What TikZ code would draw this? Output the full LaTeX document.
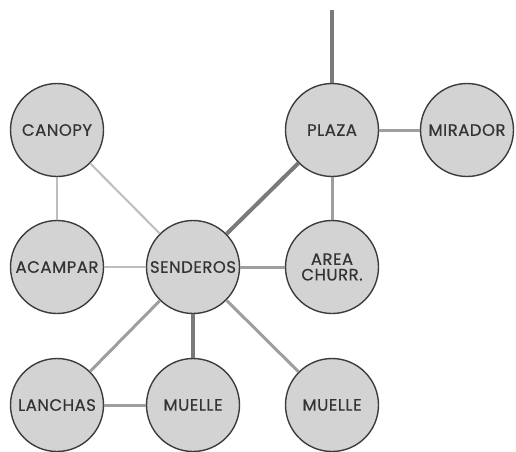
\documentclass[tikz,border=0pt]{standalone}
\usepackage{fontspec}
\setmainfont{Poppins}[LetterSpace=3,FakeBold=0.4]
\definecolor{nodefill}{HTML}{D3D3D3}
\definecolor{nodeline}{HTML}{3C3C3C}
\definecolor{nodetext}{HTML}{333333}
\definecolor{thickline}{HTML}{7A7A7A}
\definecolor{midline}{HTML}{9E9E9E}
\definecolor{lightline}{HTML}{BDBDBD}
\begin{document}
\begin{tikzpicture}[x=1pt,y=-1pt,
  place/.style={circle,draw=nodeline,line width=1.4pt,fill=nodefill,minimum size=93pt,inner sep=0pt,
    text=nodetext,font=\fontsize{16.5}{16.5}\selectfont,align=center},
  heavy/.style={draw=thickline,line width=4pt},
  medium/.style={draw=midline,line width=3pt},
  light/.style={draw=lightline,line width=2pt}]
\useasboundingbox (0,0) rectangle (516,451);
\coordinate (top) at (332,10);
% nodes
\node[place] (canopy) at (57,130) {CANOPY};
\node[place] (plaza) at (332,130) {PLAZA};
\node[place] (mirador) at (467,130) {MIRADOR};
\node[place] (acampar) at (57,267) {ACAMPAR};
\node[place] (senderos) at (193,267) {SENDEROS};
\node[place] (area) at (332,267) {AREA\\[-1pt]CHURR.};
\node[place] (lanchas) at (57,405) {LANCHAS};
\node[place] (muelle) at (193,405) {MUELLE};
\node[place] (muelleb) at (332,405) {MUELLE};
% edges
\path[heavy] (top) -- (plaza);
\path[heavy] (plaza) -- (senderos);
\path[heavy] (senderos) -- (muelle);
\path[medium] (plaza) -- (mirador);
\path[medium] (plaza) -- (area);
\path[medium] (senderos) -- (area);
\path[medium] (senderos) -- (lanchas);
\path[medium] (senderos) -- (muelleb);
\path[medium] (lanchas) -- (muelle);
\path[light] (canopy) -- (senderos);
\path[light] (canopy) -- (acampar);
\path[light] (acampar) -- (senderos);
\end{tikzpicture}
\end{document}
